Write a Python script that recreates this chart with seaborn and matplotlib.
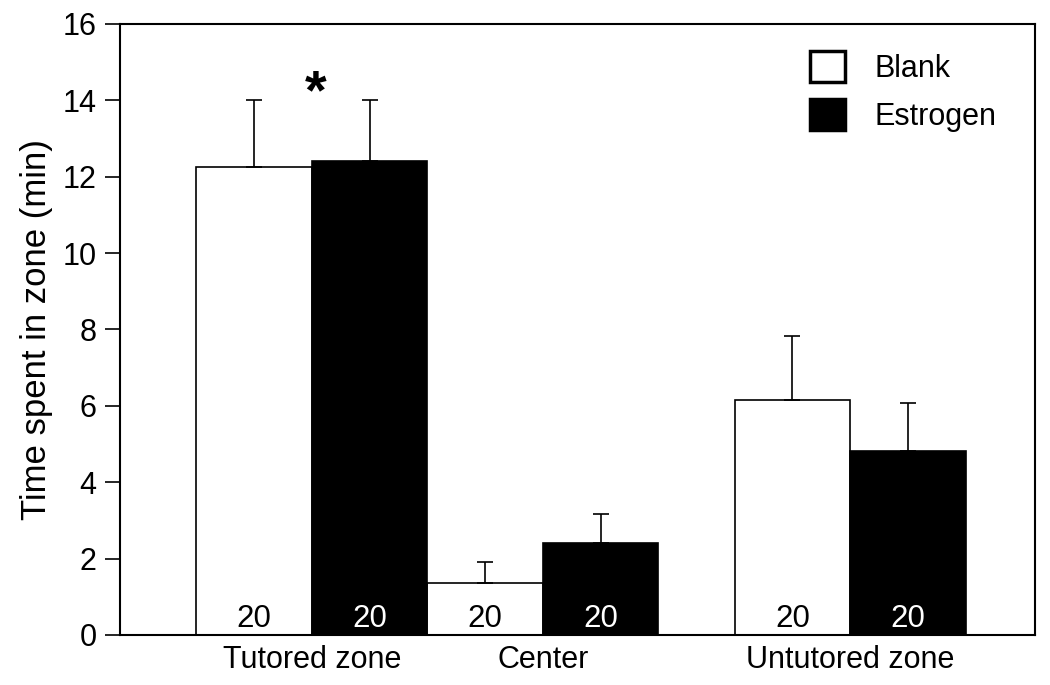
import matplotlib
matplotlib.use("Agg")
import matplotlib.pyplot as plt
import seaborn as sns
import pandas as pd
from matplotlib.patches import Patch

# data
zones = ["Tutored zone", "Center", "Untutored zone"]
groups = ["Blank", "Estrogen"]
blank_mean = [12.25, 1.35, 6.15]
blank_sem = [1.75, 0.56, 1.68]
estrogen_mean = [12.4, 2.4, 4.82]
estrogen_sem = [1.6, 0.77, 1.25]
n_per_bar = [20, 20, 20]

# layout: group centres on the x axis (the original has a wider gap before the last group)
zone_pos = [0.0, 1.0, 2.33]

rows = []
for z, p, m in zip(zones, zone_pos, blank_mean):
    rows.append({"pos": p, "zone": z, "group": "Blank", "time": m})
for z, p, m in zip(zones, zone_pos, estrogen_mean):
    rows.append({"pos": p, "zone": z, "group": "Estrogen", "time": m})
df = pd.DataFrame(rows)

sns.set_style("ticks")
plt.rcParams["font.family"] = ["Liberation Sans", "DejaVu Sans"]
plt.rcParams.update({"text.color": "black", "axes.labelcolor": "black",
                     "xtick.color": "black", "ytick.color": "black"})

fig = plt.figure(figsize=(10.5, 6.85), dpi=100)
ax = fig.add_axes([0.1143, 0.073, 0.8714, 0.892])

sns.barplot(data=df, x="pos", y="time", hue="group", hue_order=groups,
            palette={"Blank": "white", "Estrogen": "black"},
            native_scale=True, width=1.0, edgecolor="black", linewidth=1.2,
            errorbar=None, legend=False, ax=ax)

# one-sided (upper) error bars and n labels
for cont, sems, txtcol in zip(ax.containers, [blank_sem, estrogen_sem], ["black", "white"]):
    for bar, e, n in zip(cont, sems, n_per_bar):
        cx = bar.get_x() + bar.get_width() / 2
        h = bar.get_height()
        ax.errorbar(cx, h, yerr=[[0], [e]], fmt="none", ecolor="black",
                    elinewidth=1.2, capsize=6, capthick=1.2, zorder=1)
        ax.text(cx, 0.03, str(n), ha="center", va="bottom", fontsize=22.5, color=txtcol)

# significance marker above tutored estrogen bar
tut_est = ax.containers[1][0]
ax.text(tut_est.get_x() + 0.015, 14.15, "*", ha="center", va="center",
        fontsize=40, fontweight="bold")

ax.set_xlim(-0.831, 3.13)
ax.set_ylim(0, 16)
ax.set_yticks(range(0, 17, 2))
ax.set_xticks(zone_pos)
ax.set_xticklabels(zones)
ax.tick_params(axis="x", length=0, labelsize=22, pad=7)
ax.tick_params(axis="y", direction="out", length=11, width=1.2, labelsize=22, pad=6)
ax.set_xlabel("")
ax.set_ylabel("Time spent in zone (min)", fontsize=25, labelpad=7)
for s in ax.spines.values():
    s.set_visible(True)
    s.set_linewidth(1.5)
    s.set_color("black")

handles = [Patch(facecolor="white", edgecolor="black", linewidth=2.5),
           Patch(facecolor="black", edgecolor="black", linewidth=2.5)]
ax.legend(handles, groups, loc="upper left", bbox_to_anchor=(0.754, 0.955),
          frameon=False, fontsize=22, handlelength=1.15, handleheight=1.15,
          handletextpad=0.95, labelspacing=0.5, borderpad=0, borderaxespad=0)

fig.savefig("out.png", dpi=100)
